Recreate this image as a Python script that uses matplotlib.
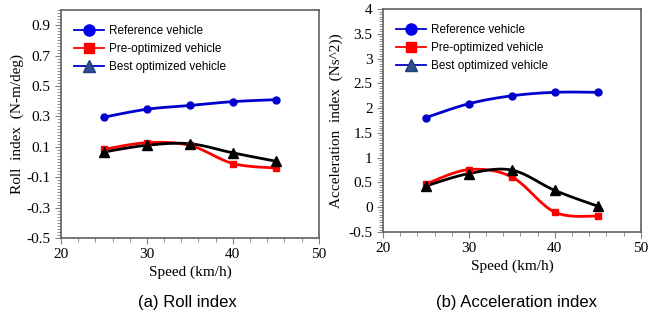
import numpy as np
import matplotlib
matplotlib.use("Agg")
import matplotlib.pyplot as plt
from matplotlib.lines import Line2D
from matplotlib.ticker import MultipleLocator

# speeds (km/h)
speed = [25, 30, 35, 40, 45]

# roll index (N-m/deg)
roll_ref = [0.295, 0.347, 0.372, 0.397, 0.410]
roll_pre = [0.083, 0.127, 0.109, -0.010, -0.040]
roll_best = [0.066, 0.110, 0.120, 0.060, 0.005]

# acceleration index
acc_ref = [1.81, 2.09, 2.25, 2.32, 2.32]
acc_pre = [0.47, 0.76, 0.61, -0.10, -0.18]
acc_best = [0.43, 0.68, 0.75, 0.34, 0.02]

legend_labels = ["Reference vehicle", "Pre-optimized vehicle", "Best optimized vehicle"]

serif = "Liberation Serif"
sans = "Liberation Sans"


def smooth(x, y, n=30):
    # excel-like smoothed line (catmull-rom as bezier segments)
    x = np.asarray(x, float)
    y = np.asarray(y, float)
    P = np.column_stack([x, y])
    P = np.vstack([P[0], P, P[-1]])
    out = []
    t = np.linspace(0, 1, n)[:, None]
    for i in range(1, len(P) - 2):
        p0, p1, p2, p3 = P[i - 1], P[i], P[i + 1], P[i + 2]
        c1 = p1 + (p2 - p0) / 6
        c2 = p2 - (p3 - p1) / 6
        seg = ((1 - t) ** 3) * p1 + 3 * ((1 - t) ** 2) * t * c1 + 3 * (1 - t) * t ** 2 * c2 + t ** 3 * p2
        out.append(seg)
    s = np.vstack(out)
    return s[:, 0], s[:, 1]


def draw(ax, ref, pre, best):
    for vals, col, mk, ms in [(ref, "#0000CC", "o", 5),
                              (pre, "#FF0000", "s", 5),
                              (best, "#000000", "^", 7)]:
        sx, sy = smooth(speed, vals)
        ax.plot(sx, sy, color=col, lw=2.0, zorder=2, solid_capstyle="round")
        ax.plot(speed, vals, ls="none", marker=mk, color=col, ms=ms, zorder=3)

    handles = [
        Line2D([], [], color="#0000CC", lw=1.3, marker="o", ms=8, mfc="#0000EE", mec="#0000EE"),
        Line2D([], [], color="#FF0000", lw=1.3, marker="s", ms=7, mfc="#FF0000", mec="#FF0000"),
        Line2D([], [], color="#0000CC", lw=1.3, marker="^", ms=8, mfc="#2F4F8F", mec="#1F3F7F"),
    ]
    ax.legend(handles, legend_labels, loc="upper left", frameon=False,
              prop={"family": sans, "size": 8.5}, handlelength=2.5,
              handletextpad=0.45, labelspacing=0.5,
              borderaxespad=0.3, bbox_to_anchor=(0.02, 0.97))

    ax.set_xlim(20, 50)
    ax.xaxis.set_major_locator(MultipleLocator(10))
    ax.xaxis.set_minor_locator(MultipleLocator(2))
    for sp in ax.spines.values():
        sp.set_color("#606060")
        sp.set_linewidth(1.2)
    ax.tick_params(which="both", direction="out", colors="#808080",
                   labelcolor="black", labelsize=11)
    ax.tick_params(which="major", length=4, width=0.8)
    ax.tick_params(which="minor", length=3, width=0.6)
    for lab in ax.get_xticklabels() + ax.get_yticklabels():
        lab.set_family(serif)
    ax.set_xlabel("Speed (km/h)", family=serif, fontsize=11, labelpad=3)


fig = plt.figure(figsize=(6.61, 3.18), dpi=100)
ax1 = fig.add_axes([0.0923, 0.2516, 0.390, 0.717])
ax2 = fig.add_axes([0.5794, 0.2704, 0.390, 0.701])

draw(ax1, roll_ref, roll_pre, roll_best)
ax1.set_ylim(-0.5, 1.0)
ax1.set_yticks([-0.5, -0.3, -0.1, 0.1, 0.3, 0.5, 0.7, 0.9])
ax1.set_yticklabels(["-0.5", "-0.3", "-0.1", "0.1", "0.3", "0.5", "0.7", "0.9"], family=serif)
ax1.yaxis.set_minor_locator(MultipleLocator(0.02))
ax1.set_ylabel("Roll  index  (N-m/deg)", family=serif, fontsize=11, labelpad=2)

draw(ax2, acc_ref, acc_pre, acc_best)
ax2.set_ylim(-0.5, 4.0)
ax2.set_yticks([-0.5, 0, 0.5, 1, 1.5, 2, 2.5, 3, 3.5, 4])
ax2.set_yticklabels(["-0.5", "0", "0.5", "1", "1.5", "2", "2.5", "3", "3.5", "4"], family=serif)
ax2.yaxis.set_minor_locator(MultipleLocator(0.05))
ax2.set_ylabel("Acceleration  index  (Ns^2))", family=serif, fontsize=11, labelpad=4)

fig.text(0.284, 0.05, "(a) Roll index", family=sans, fontsize=12, ha="center", va="center")
fig.text(0.782, 0.05, "(b) Acceleration index", family=sans, fontsize=12, ha="center", va="center")

fig.savefig("out.png", dpi=100, facecolor="white")
